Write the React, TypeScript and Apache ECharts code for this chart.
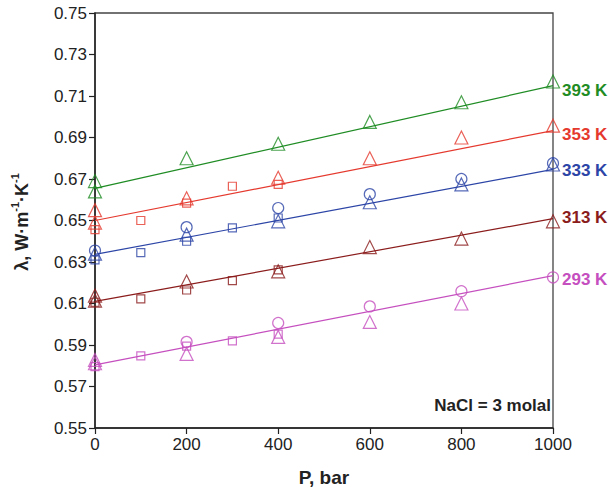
import React, { useEffect, useRef } from "react";
import * as echarts from "echarts";

const FONT = "'Liberation Sans', Arial, Helvetica, sans-serif";

// Pressure (bar), thermal conductivity λ (W·m⁻¹·K⁻¹)
const tempLabels = ["393 K", "353 K", "333 K", "313 K", "293 K"];
const tempColors = ["#1f8c24", "#e5392e", "#2c45a6", "#8b1c1c", "#c54fbf"];

const fitP = [0, 1000];
const fit393 = [0.6655, 0.715];
const fit353 = [0.65, 0.6933];
const fit333 = [0.6337, 0.6746];
const fit313 = [0.611, 0.6509];
const fit293 = [0.5804, 0.6234];

const tri393 = [[0, 0.669], [0, 0.664], [200, 0.68], [400, 0.687], [600, 0.6975], [800, 0.707], [1000, 0.717]];

const tri353 = [[0, 0.655], [0, 0.649], [200, 0.6607], [400, 0.6706], [600, 0.68], [800, 0.69], [1000, 0.6957]];
const sq353 = [[0, 0.6456], [100, 0.65], [200, 0.6584], [300, 0.6665], [400, 0.6674]];

const circ333 = [[0, 0.6355], [200, 0.6468], [400, 0.656], [600, 0.6627], [800, 0.67], [1000, 0.6776]];
const tri333 = [[0, 0.634], [200, 0.6432], [400, 0.6496], [600, 0.6588], [800, 0.6674], [1000, 0.677]];
const sq333 = [[0, 0.631], [100, 0.6345], [200, 0.64], [300, 0.6464], [400, 0.6512]];

const tri313 = [[0, 0.6138], [0, 0.6114], [200, 0.6206], [400, 0.6255], [600, 0.6372], [800, 0.6413], [1000, 0.6496]];
const sq313 = [[0, 0.6106], [100, 0.6122], [200, 0.6165], [300, 0.621], [400, 0.6262]];

const tri293 = [[0, 0.5828], [0, 0.5812], [200, 0.5857], [400, 0.5939], [600, 0.6011], [800, 0.61]];
const sq293 = [[0, 0.5796], [100, 0.5848], [200, 0.5895], [300, 0.592], [400, 0.5952]];
const circ293 = [[200, 0.5915], [400, 0.6006], [600, 0.6086], [800, 0.6159], [1000, 0.6226]];

const fits = [fit393, fit353, fit333, fit313, fit293];
const markerSets = [
  { tri: tri393, sq: [], circ: [] },
  { tri: tri353, sq: sq353, circ: [] },
  { tri: tri333, sq: sq333, circ: circ333 },
  { tri: tri313, sq: sq313, circ: [] },
  { tri: tri293, sq: sq293, circ: circ293 },
];
const labelOffsets = [5, 4, 1, -1, 4];

export default function App() {
  const ref = useRef<HTMLDivElement>(null);
  useEffect(() => {
    if (!ref.current) return;
    const chart = echarts.init(ref.current, undefined, { renderer: "svg" });
    const series: any[] = [];
    fits.forEach((f, i) => {
      const c = tempColors[i];
      series.push({
        type: "line",
        data: fitP.map((p, k) => [p, f[k]]),
        showSymbol: false,
        symbol: "none",
        lineStyle: { color: c, width: 1.2 },
        z: 2,
        endLabel: {
          show: true,
          formatter: tempLabels[i],
          color: c,
          fontFamily: FONT,
          fontWeight: "bold",
          fontSize: 17,
          distance: 9,
          offset: [0, labelOffsets[i]],
        },
      });
      const m = markerSets[i];
      const mk = (data: number[][], symbol: string, size: number) => ({
        type: "scatter",
        data,
        symbol,
        symbolSize: size,
        itemStyle: { color: "rgba(255,255,255,0)", borderColor: c, borderWidth: 1.2 },
        z: 3,
      });
      if (m.tri.length) series.push(mk(m.tri, "triangle", 13));
      if (m.sq.length) series.push(mk(m.sq, "rect", 8));
      if (m.circ.length) series.push(mk(m.circ, "circle", 11));
    });

    chart.setOption({
      animation: false,
      backgroundColor: "#ffffff",
      grid: {
        left: 95,
        top: 13,
        width: 458,
        height: 419,
        show: true,
        borderColor: "#444",
        borderWidth: 1.3,
      },
      xAxis: {
        type: "value",
        min: 0,
        max: 1000,
        interval: 200,
        name: "P, bar",
        nameLocation: "middle",
        nameGap: 40,
        nameTextStyle: { fontFamily: FONT, fontWeight: "bold", fontSize: 19, color: "#222" },
        axisLine: { show: true, lineStyle: { color: "#222", width: 1.5 } },
        axisTick: { show: true, inside: false, length: 6, lineStyle: { color: "#222", width: 1.2 } },
        axisLabel: { fontFamily: FONT, fontSize: 17, color: "#222", margin: 8, formatter: (v: number) => String(v) },
        splitLine: { show: false },
      },
      yAxis: {
        type: "value",
        min: 0.55,
        max: 0.75,
        interval: 0.02,
        axisLine: { show: true, lineStyle: { color: "#222", width: 1.5 } },
        axisTick: { show: true, inside: false, length: 6, lineStyle: { color: "#222", width: 1.2 } },
        axisLabel: {
          fontFamily: FONT,
          fontSize: 17,
          color: "#222",
          margin: 8,
          formatter: (v: number) => v.toFixed(2),
        },
        splitLine: { show: false },
      },
      graphic: [
        {
          type: "text",
          x: 20,
          y: 222,
          rotation: Math.PI / 2,
          style: {
            text: "{a|λ, W·m}{s|-1}{a|·K}{s|-1}",
            align: "center",
            verticalAlign: "middle",
            rich: {
              a: { fontFamily: FONT, fontWeight: "bold", fontSize: 18, fill: "#222", lineHeight: 22, verticalAlign: "bottom" },
              s: { fontFamily: FONT, fontWeight: "bold", fontSize: 11, fill: "#222", lineHeight: 22, verticalAlign: "top" },
            },
          },
        },
        {
          type: "text",
          x: 551,
          y: 405,
          style: {
            text: "NaCl = 3 molal",
            align: "right",
            verticalAlign: "middle",
            fontFamily: FONT,
            fontWeight: "bold",
            fontSize: 17,
            fill: "#222",
          },
        },
      ],
      series,
    });
    return () => chart.dispose();
  }, []);
  return (
    <div
      ref={ref}
      style={{ position: "fixed", left: 0, top: 0, width: 611, height: 492 }}
    />
  );
}
